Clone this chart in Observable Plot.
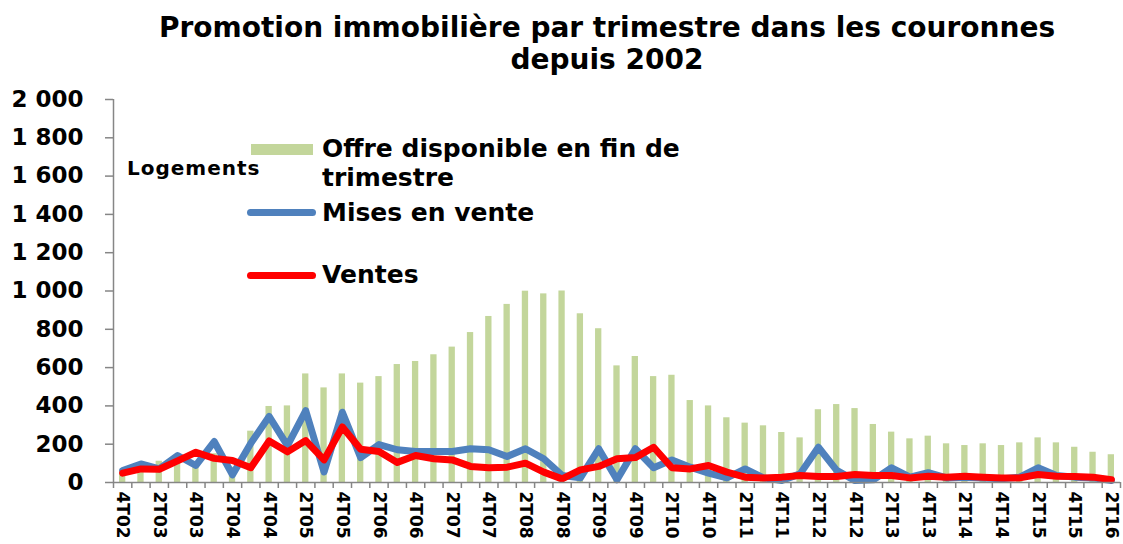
<!DOCTYPE html>
<html><head><meta charset="utf-8">
<script src="https://cdn.jsdelivr.net/npm/d3@7"></script>
<script src="https://cdn.jsdelivr.net/npm/@observablehq/plot@0.6"></script>
<style>
body{margin:0;background:#fff;width:1123px;height:544px;overflow:hidden;position:relative;font-family:"DejaVu Sans",sans-serif;font-weight:bold;color:#000;}
#title{height:80px;box-sizing:border-box;padding-top:12px;padding-left:91px;text-align:center;font-size:28px;line-height:32px;}
.abs{position:absolute;white-space:nowrap;}
.leg{font-size:25px;line-height:29px;left:322px;}
</style></head><body>
<div id="title">Promotion immobilière par trimestre dans les couronnes<br>depuis 2002</div>
<div id="chart"></div>
<div class="abs" style="left:127px;top:156px;font-size:20px;line-height:24px;letter-spacing:1px;">Logements</div>
<div class="abs" style="left:251px;top:144px;width:62px;height:11px;background:#c3d69b;"></div>
<div class="abs leg" style="top:134px;">Offre disponible en fin de<br>trimestre</div>
<div class="abs" style="left:247px;top:209px;width:69px;height:7px;border-radius:3.5px;background:#4f81bd;"></div>
<div class="abs leg" style="top:198px;">Mises en vente</div>
<div class="abs" style="left:247px;top:272px;width:69px;height:7px;border-radius:3.5px;background:#ff0000;"></div>
<div class="abs leg" style="top:260px;">Ventes</div>
<script>
const quarters = ["4T02",
  "1T03","2T03","3T03","4T03","1T04","2T04","3T04","4T04","1T05","2T05","3T05","4T05",
  "1T06","2T06","3T06","4T06","1T07","2T07","3T07","4T07","1T08","2T08","3T08","4T08",
  "1T09","2T09","3T09","4T09","1T10","2T10","3T10","4T10","1T11","2T11","3T11","4T11",
  "1T12","2T12","3T12","4T12","1T13","2T13","3T13","4T13","1T14","2T14","3T14","4T14",
  "1T15","2T15","3T15","4T15","1T16","2T16"];
const offre = [55,80,111,140,100,150,80,268,397,400,567,494,567,519,553,616,632,667,707,783,
  867,930,999,985,1000,881,803,609,658,553,560,428,400,338,310,296,261,233,380,407,
  386,303,263,228,242,202,193,202,193,207,233,207,184,158,145];
const mises = [63,97,71,141,89,214,40,205,345,193,375,55,367,130,198,171,162,162,162,176,
  171,136,176,124,37,24,176,14,176,77,118,80,49,24,71,24,10,45,184,63,
  10,14,77,28,51,24,28,24,19,28,77,37,28,24,10];
const ventes = [49,71,69,113,158,126,115,77,217,160,219,118,290,174,162,105,141,124,118,84,
  77,80,101,54,19,66,84,124,130,184,77,71,89,54,28,24,28,37,31,31,
  42,37,37,24,33,28,33,28,24,24,42,33,31,28,14];
const yTicks = [0,200,400,600,800,1000,1200,1400,1600,1800,2000];

const rows = quarters.map((q, i) => ({q, i, offre: offre[i], mises: mises[i], ventes: ventes[i]}));
const n = quarters.length;
const fmt = d => d3.format(",")(d).replace(/,/g, " ");
const gray = "#868686";

const chart = Plot.plot({
  width: 1123, height: 464,
  marginLeft: 113, marginRight: 3, marginTop: 19, marginBottom: 62,
  x: {type: "linear", domain: [0, n], axis: null},
  y: {domain: [0, 2000], axis: null},
  style: {fontFamily: "DejaVu Sans", fontWeight: "bold", color: "#000", overflow: "visible"},
  marks: [
    Plot.rectY(rows, {x1: "i", x2: d => d.i + 1, y: "offre", fill: "#c3d69b", insetLeft: 6, insetRight: 6}),
    Plot.line(rows, {x: d => d.i + 0.5, y: "mises", stroke: "#4f81bd", strokeWidth: 7, strokeLinejoin: "round", strokeLinecap: "round"}),
    Plot.line(rows, {x: d => d.i + 0.5, y: "ventes", stroke: "#ff0000", strokeWidth: 7, strokeLinejoin: "round", strokeLinecap: "round"}),
    Plot.ruleX([0], {stroke: gray, strokeWidth: 1.5}),
    Plot.ruleY([0], {stroke: gray, strokeWidth: 1.5}),
    Plot.axisY({ticks: yTicks, tickFormat: fmt, tickSize: 8, tickPadding: 22, fontSize: 23, stroke: gray, fill: "#000", strokeWidth: 1.5, label: null}),
    Plot.axisX({ticks: d3.range(0, n + 1), tickFormat: () => "", tickSize: 6, stroke: gray, strokeWidth: 1.5, label: null}),
    Plot.axisX({ticks: d3.range(0, n, 2).map(i => i + 0.5), tickFormat: t => quarters[Math.floor(t)], tickSize: 0, tickPadding: 9, tickRotate: 90, fontSize: 17, fill: "#000", label: null})
  ]
});
document.getElementById("chart").appendChild(chart);
</script>
</body></html>
